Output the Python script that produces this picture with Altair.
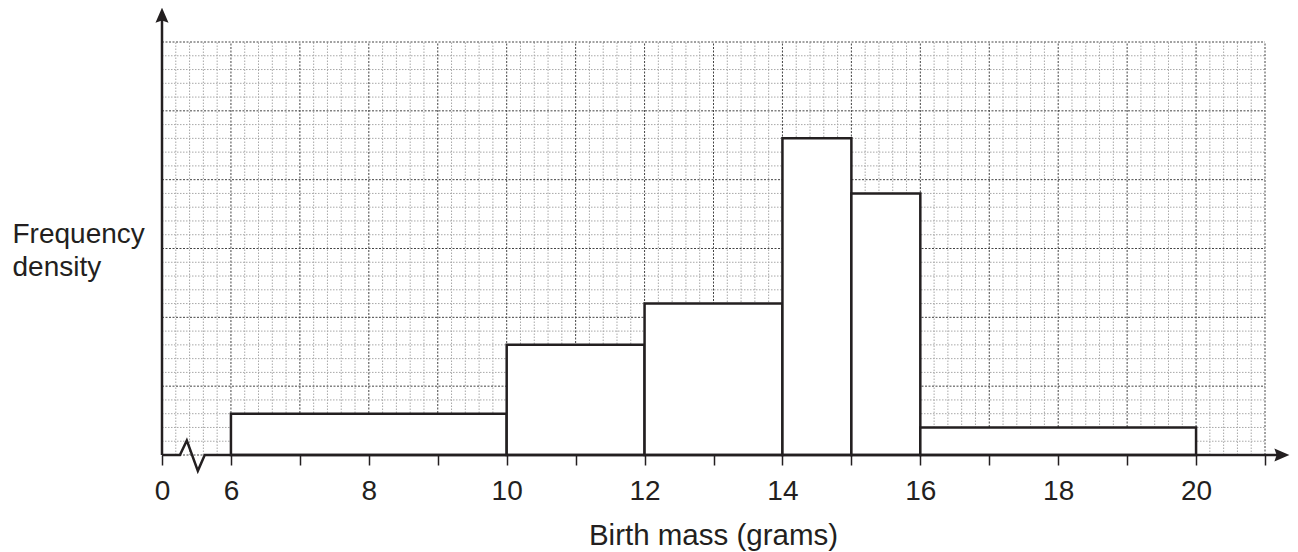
import altair as alt
import pandas as pd

# ---- data ----
bin_start = [6, 10, 12, 14, 15, 16]
bin_end = [10, 12, 14, 15, 16, 20]
freq_density = [0.6, 1.6, 2.2, 4.6, 3.8, 0.4]

# axis: position 5 stands for the broken-off 0
x_tick_values = list(range(5, 22))
x_label_expr = "datum.value == 5 ? '0' : (datum.value % 2 == 0 ? format(datum.value, 'd') : '')"

# graph-paper grid (every 0.2 unit, bold every 1 unit)
minor_x = [round(5 + 0.2 * i, 1) for i in range(81) if i % 5 != 0]
major_x = list(range(5, 22))
minor_y = [round(0.2 * i, 1) for i in range(31) if i % 5 != 0]
major_y = list(range(0, 7))

# axis line with the zig-zag break symbol
axis_path_x = [5, 5.26, 5.36, 5.52, 5.62, 21.2]
axis_path_y = [0, 0, 0.21, -0.23, 0, 0]

INK = "#231f20"
FONT = "Liberation Sans"

xs = alt.Scale(domain=[5, 21], nice=False, zero=False)
ys = alt.Scale(domain=[0, 6], nice=False, zero=False)

bars_df = pd.DataFrame({"start": bin_start, "end": bin_end, "density": freq_density})

x_axis = alt.Axis(
    values=x_tick_values, labelExpr=x_label_expr, tickSize=10, tickWidth=1.5,
    tickColor=INK, domain=False, grid=False, labelFontSize=28, labelFont=FONT,
    labelColor=INK, labelPadding=34, labelBaseline="alphabetic", labelFlush=False,
    labelOverlap=False, title="Birth mass (grams)", titleFontSize=29.5,
    titleFont=FONT, titleColor=INK, titleFontWeight="normal", titleX=551,
    titleY=89, titleBaseline="alphabetic", titleAlign="center", titleAnchor="start",
)
y_axis = alt.Axis(
    labels=False, ticks=False, domain=False, grid=False,
    title=["Frequency", "density"], titleAngle=0, titleAlign="left",
    titleBaseline="alphabetic", titleX=-150, titleY=200, titleFontSize=28,
    titleFont=FONT, titleColor=INK, titleFontWeight="normal", titleLineHeight=33,
    titleAnchor="start",
)

def vgrid(vals, color, dash):
    df = pd.DataFrame({"x": vals})
    return alt.Chart(df).mark_rule(color=color, strokeWidth=1, strokeDash=dash).encode(
        x=alt.X("x:Q", scale=xs, axis=x_axis),
        y=alt.Y(datum=0, scale=ys, axis=y_axis),
        y2=alt.Y2(datum=6),
    )

def hgrid(vals, color, dash):
    df = pd.DataFrame({"y": vals})
    return alt.Chart(df).mark_rule(color=color, strokeWidth=1, strokeDash=dash).encode(
        y=alt.Y("y:Q", scale=ys, axis=y_axis),
        x=alt.X(datum=5, scale=xs, axis=x_axis),
        x2=alt.X2(datum=21),
    )

minor_layers = [vgrid(minor_x, "#a8a8a8", [1.5, 1.5]), hgrid(minor_y, "#a8a8a8", [1.5, 1.5])]
major_layers = [vgrid(major_x, "#444444", [2, 1.5]), hgrid(major_y, "#444444", [2, 1.5])]

bars = alt.Chart(bars_df).mark_rect(fill="white", stroke=INK, strokeWidth=2.5).encode(
    x=alt.X("start:Q", scale=xs, axis=x_axis),
    x2="end:Q",
    y=alt.Y("density:Q", scale=ys, axis=y_axis),
    y2=alt.Y2(datum=0),
)

axis_df = pd.DataFrame({"x": axis_path_x, "y": axis_path_y, "i": list(range(len(axis_path_x)))})
x_axis_line = alt.Chart(axis_df).mark_line(color=INK, strokeWidth=2.5, strokeJoin="miter").encode(
    x=alt.X("x:Q", scale=xs, axis=x_axis),
    y=alt.Y("y:Q", scale=ys, axis=y_axis),
    order="i:O",
)

y_axis_line = alt.Chart(pd.DataFrame({"a": [0]})).mark_rule(color=INK, strokeWidth=2.5).encode(
    x=alt.X(datum=5, scale=xs, axis=x_axis),
    y=alt.Y(datum=0, scale=ys, axis=y_axis),
    y2=alt.Y2(datum=6.35),
)

up_arrow = alt.Chart(pd.DataFrame({"a": [0]})).mark_point(
    shape="M0,-1L0.87,1L0,0.7L-0.87,1Z", size=225, filled=True, color=INK, opacity=1
).encode(
    x=alt.X(datum=5, scale=xs, axis=x_axis),
    y=alt.Y(datum=6.39, scale=ys, axis=y_axis),
)

right_arrow = alt.Chart(pd.DataFrame({"a": [0]})).mark_point(
    shape="M1,0L-1,0.87L-0.7,0L-1,-0.87Z", size=225, filled=True, color=INK, opacity=1
).encode(
    x=alt.X(datum=21.245, scale=xs, axis=x_axis),
    y=alt.Y(datum=0, scale=ys, axis=y_axis),
)

chart = alt.layer(
    *minor_layers, *major_layers, bars, x_axis_line, y_axis_line, up_arrow, right_arrow
).properties(
    width=1103, height=413,
    padding={"left": 154, "top": 34, "right": 25, "bottom": 97},
    autosize=alt.AutoSizeParams(type="none"),
    background="white",
).configure_view(stroke=None)

chart.save("out.html", embed_options={"renderer": "svg", "actions": False})
